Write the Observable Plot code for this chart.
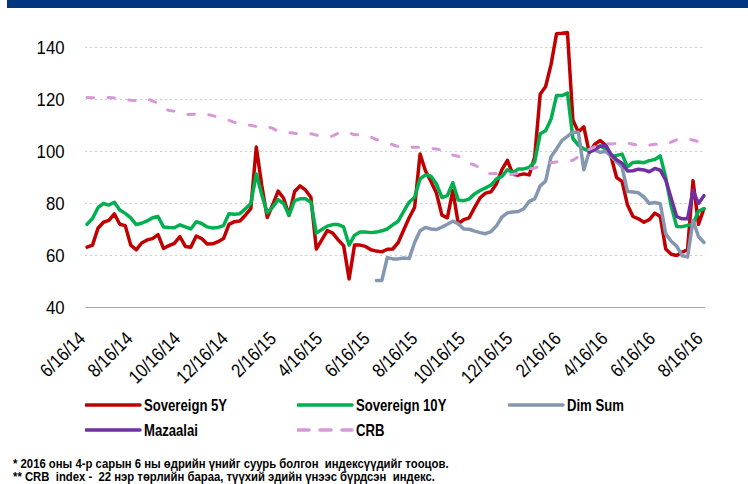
<!DOCTYPE html>
<html><head><meta charset="utf-8">
<script src="https://cdn.jsdelivr.net/npm/d3@7"></script>
<script src="https://cdn.jsdelivr.net/npm/@observablehq/plot@0.6"></script>
<style>
body{margin:0;background:#fff;width:748px;height:484px;overflow:hidden;position:relative;font-family:"Liberation Sans","Arial",sans-serif;color:#000;}
#bar{position:absolute;left:7px;top:0;width:741px;height:8px;background:#00357f;}
#chart{position:absolute;left:0;top:8px;}
.lt{position:absolute;font-weight:bold;font-size:16.5px;line-height:18px;white-space:nowrap;transform:scaleX(0.795);transform-origin:0 50%;}
.sw{position:absolute;}
.fn{position:absolute;left:13px;font-weight:bold;font-size:12.3px;line-height:13px;white-space:nowrap;transform:scaleX(0.92);transform-origin:0 50%;}
</style></head>
<body>
<div id="bar"></div>
<div id="chart"></div>
<div id="legend"></div>
<div class="fn" style="top:458px">* 2016 оны 4-р сарын 6 ны өдрийн үнийг суурь болгон&nbsp; индексүүдийг тооцов.</div>
<div class="fn" style="top:471px">** CRB&nbsp; index -&nbsp; 22 нэр төрлийн бараа, түүхий эдийн үнээс бүрдсэн&nbsp; индекс.</div>
<script>
// weekly observation dates (Mondays) from 6/16/2014 to 8/15/2016
const dates = d3.utcMonday.range(new Date(Date.UTC(2014,5,16)), new Date(Date.UTC(2016,7,16)));

const sovereign5Y = [63.2,64,70.5,72.8,73.5,76,72,71.5,64,62.2,
64.8,66,66.5,68,62.7,63.8,64.7,67.3,63.5,63.2,
67.5,66.5,64.4,64.5,65.3,66.5,72,73,73.3,75.5,
78,101.7,87,74.6,79.5,84.8,82,75.4,84.5,86.8,
85.2,82.4,62.5,66,69.6,68.6,66,63.8,51,64,
64,63.5,62.2,61.7,61.4,62.4,62.5,65,69.8,74.5,
78.5,99,92.5,88.5,84,75.5,74.5,85,72.2,73.8,
74.5,78.5,82.2,84,84.5,87.6,93,96.6,91.2,90.9,
91.4,91,98,122,125,133.5,145.3,145.5,145.8,112,
107.5,109.5,99.5,102.8,104.2,102.5,98,90,88.5,79.4,
75,74.1,72.8,73.8,76.3,75,62.5,60.5,60,61.3,
62.2,88.8,72,78];

const sovereign10Y = [72,74.2,78.4,80,79.4,80.5,77.5,76.2,74.5,71.9,
72.4,73.3,74.5,75,71,70.8,70.7,71.8,71,70.2,
73,72.3,71,70.6,70.8,71.5,76.1,75.9,76.1,78,
80,91.4,83.4,76.4,78.6,81.5,80,75.5,81.1,81.8,
81.8,80.5,68.6,70,71.3,71.9,71.9,71,64,67.8,
69,69,68.8,69,69.5,70.2,71.8,73.2,77,80.5,
82.4,89.5,91,90.5,87.5,82.3,83,88,81.3,81.1,
81.7,83.7,85,86,87.1,89.5,90.4,93,91.8,93.3,
93.3,93.9,96,106.8,108,112.5,121.5,121.5,122.5,105,
102.5,101,100.3,101.5,102.1,101,98,98.5,99,94.1,
95.8,96,95.7,96.5,96.9,98.3,90,79,71.2,71.1,
71.6,72.1,77,78];

const dimSum = Array(53).fill(null).concat([
50.4,50.4,59.2,58.7,58.7,59,58.8,65,69.5,70.8,
70.2,70,70.9,72,73.2,72.2,70.2,70.1,69.4,68.8,
68.4,69.2,71.4,74.8,76.4,76.7,76.9,78,80.8,81.8,
86.8,88.6,98,101,104.3,105.8,107.4,107.4,93,100,
100.5,99.7,100,98.2,96.1,94,84.6,84.4,84.1,82.5,
80,80.4,79.9,68.3,65.5,63.6,60,59.4,73.5,67.3,
65]);

const mazaalai = Array(92).fill(null).concat([
99.8,100.8,102,102.3,98.8,96.8,95.5,92.5,92.6,93.2,
92.9,92.2,93.5,92.8,89,82,75,74.1,74.1,85,
80,83]);

const crb = [120.8,120.7,120.5,120.7,120.8,120.6,120.3,120,119.7,119.6,
119.9,120.2,119.5,118.5,116.5,115.8,115.5,115,114.3,114.2,
114.4,114.6,114.3,113.8,113.2,112.5,112,111.2,110.6,110.2,
110.1,109.6,109.5,109.6,108.9,107.8,107.3,107.3,107,106.9,
107,106.8,106.3,105.8,105.6,106,107,107.6,107.2,106.4,
106.5,106.4,105.6,104.6,104,103.4,102.6,101.9,101.8,101.7,
101.6,101.6,101.5,101.1,101,100.5,99.4,98.6,98.2,96.5,
95.4,94.8,93.5,92,91.4,91.5,91.2,91.2,91.2,91.6,
92.5,93.3,93.6,94.5,95.4,95.7,96,96.2,96.3,96.6,
98,100.2,100.8,101.8,103,103.1,102.9,103.1,103.3,103.2,
102.8,102.3,102.2,102.5,102.8,102.6,102.8,103.6,104.5,104.6,
104.8,104.4,103.8,103.1];

const tickLabels = ["6/16/14","8/16/14","10/16/14","12/16/14","2/16/15","4/16/15","6/16/15","8/16/15","10/16/15","12/16/15","2/16/16","4/16/16","6/16/16","8/16/16"];
const yTicks = [40,60,80,100,120,140];

const seriesNames = ["Sovereign 5Y","Sovereign 10Y","Dim Sum","Mazaalai","CRB"];
const seriesColors = ["#c00000","#00b050","#8497b0","#7030a0","#d898d8"];

const parseTick = d3.utcParse("%m/%d/%y");
const tickDates = tickLabels.map(parseTick);

const rows = (vals) => dates.map((d,i) => ({date:d, value:vals[i]}));

const plot = Plot.plot({
  width: 748, height: 397,
  marginLeft: 85, marginRight: 43, marginTop: 39, marginBottom: 98,
  style: {fontFamily: '"Liberation Sans",Arial,sans-serif', color: "#000", background: "transparent"},
  x: {type: "utc", domain: [new Date(Date.UTC(2014,5,14)), new Date(Date.UTC(2016,7,17))]},
  y: {domain: [40,140]},
  marks: [
    Plot.gridY(yTicks.slice(1), {stroke: "#cfcfcf", strokeOpacity: 1, strokeDasharray: "2,3", strokeWidth: 1}),
    Plot.ruleY([40], {stroke: "#a6a6a6", strokeWidth: 1}),
    Plot.axisY({ticks: yTicks, tickSize: 0, tickPadding: 21, fontSize: 19, label: null}),
    Plot.axisX({ticks: tickDates, tickFormat: (d,i) => tickLabels[i], tickSize: 0, tickPadding: 28, dx: -5, tickRotate: -45, fontSize: 19, label: null}),
    Plot.line(rows(sovereign5Y), {x: "date", y: "value", stroke: seriesColors[0], strokeWidth: 3.5, strokeLinejoin: "round"}),
    Plot.line(rows(sovereign10Y), {x: "date", y: "value", stroke: seriesColors[1], strokeWidth: 3.5, strokeLinejoin: "round"}),
    Plot.line(rows(dimSum), {x: "date", y: "value", stroke: seriesColors[2], strokeWidth: 3.5, strokeLinejoin: "round"}),
    Plot.line(rows(mazaalai), {x: "date", y: "value", stroke: seriesColors[3], strokeWidth: 3.5, strokeLinejoin: "round"}),
    Plot.line(rows(crb), {x: "date", y: "value", stroke: seriesColors[4], strokeWidth: 3, strokeDasharray: "6.5,14.5", strokeLinecap: "round"})
  ]
});
document.getElementById("chart").appendChild(plot);

// condense tick labels to match the narrow typeface of the original
plot.querySelectorAll('g[aria-label="y-axis tick label"] text').forEach(t => {
  t.setAttribute("textLength", (t.getComputedTextLength() * 0.88).toFixed(1));
  t.setAttribute("lengthAdjust", "spacingAndGlyphs");
});
plot.querySelectorAll('g[aria-label="x-axis tick label"] text').forEach(t => {
  t.setAttribute("textLength", (t.getComputedTextLength() * 0.86).toFixed(1));
  t.setAttribute("lengthAdjust", "spacingAndGlyphs");
});

// legend
const legendPos = [[85,405],[297,405],[508,405],[85,430],[297,430]];
const leg = document.getElementById("legend");
seriesNames.forEach((name,i) => {
  const [lx, ly] = legendPos[i];
  const sw = document.createElementNS("http://www.w3.org/2000/svg","svg");
  sw.setAttribute("width", 58); sw.setAttribute("height", 8);
  sw.setAttribute("class","sw");
  sw.style.left = lx + "px"; sw.style.top = (ly - 4) + "px";
  const ln = document.createElementNS("http://www.w3.org/2000/svg","line");
  ln.setAttribute("x1", 1); ln.setAttribute("x2", 55); ln.setAttribute("y1", 4); ln.setAttribute("y2", 4);
  ln.setAttribute("stroke", seriesColors[i]);
  ln.setAttribute("stroke-width", 3.5);
  ln.setAttribute("stroke-linecap", "round");
  if (name === "CRB") ln.setAttribute("stroke-dasharray", "11,11");
  sw.appendChild(ln);
  leg.appendChild(sw);
  const t = document.createElement("div");
  t.className = "lt"; t.textContent = name;
  t.style.left = (lx + 59) + "px"; t.style.top = (ly - 8.7) + "px";
  leg.appendChild(t);
});
</script>
</body></html>
